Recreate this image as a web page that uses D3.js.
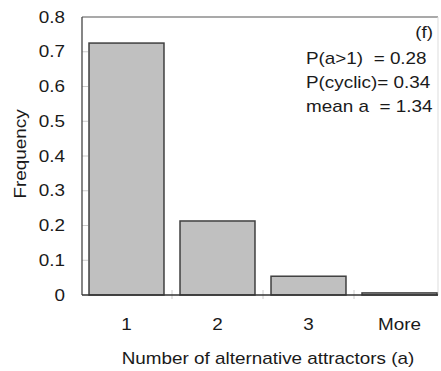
<!DOCTYPE html>
<html lang="en">
<head>
  <meta charset="UTF-8">
  <title>Alternative attractors</title>
  <script src="https://d3js.org/d3.v7.min.js"></script>
  <style>
    body { margin: 0; background: #fff; }
    svg { display: block; font-family: "Liberation Sans", Arial, sans-serif; }
    svg text { font-size: 16px; fill: #1a1a1a; white-space: pre; }
  </style>
</head>
<body>
  <svg width="441" height="371"></svg>
  <script>
    // data
    const categories = ["1", "2", "3", "More"];
    const frequency = [0.725, 0.213, 0.054, 0.006];
    const yTicks = [0, 0.1, 0.2, 0.3, 0.4, 0.5, 0.6, 0.7, 0.8];
    const notes = ["P(a>1)  = 0.28", "P(cyclic)= 0.34", "mean a  = 1.34"];
    const panel = "(f)";

    const svg = d3.select("svg");

    const plot = { left: 82, right: 438, top: 17, bottom: 295 };
    const stretch = 1.18; // the original type is set wider than normal

    // place a text with its own origin so the widening keeps the anchor
    function place(x, y, rot) {
      return `translate(${x},${y}) rotate(${rot || 0}) scale(${stretch},1)`;
    }

    const x = d3.scaleBand()
      .domain(categories)
      .range([81, 445])
      .paddingInner(0.176)
      .paddingOuter(0.088);

    const y = d3.scaleLinear()
      .domain([0, 0.8])
      .range([plot.bottom, plot.top]);

    // frame: top dark, right light
    svg.append("line")
      .attr("x1", plot.left).attr("x2", plot.right)
      .attr("y1", plot.top).attr("y2", plot.top)
      .attr("stroke", "#555").attr("stroke-width", 1.2);
    svg.append("line")
      .attr("x1", plot.right).attr("x2", plot.right)
      .attr("y1", plot.top).attr("y2", plot.bottom)
      .attr("stroke", "#ddd").attr("stroke-width", 1);

    // inner y ticks (light)
    svg.append("g")
      .selectAll("line")
      .data(yTicks.slice(1, -1))
      .join("line")
      .attr("x1", plot.left).attr("x2", plot.left + 6)
      .attr("y1", d => y(d)).attr("y2", d => y(d))
      .attr("stroke", "#ccc");

    // y labels
    svg.append("g")
      .selectAll("text")
      .data(yTicks)
      .join("text")
      .attr("transform", d => place(65, y(d)))
      .attr("dy", "0.35em")
      .attr("text-anchor", "end")
      .text(d => d === 0 ? "0" : d3.format(".1f")(d));

    // category boundary ticks
    svg.append("g")
      .selectAll("line")
      .data(categories.slice(1))
      .join("line")
      .attr("x1", d => x(d) - x.step() * x.paddingInner() / 2)
      .attr("x2", d => x(d) - x.step() * x.paddingInner() / 2)
      .attr("y1", plot.bottom - 5).attr("y2", plot.bottom + 4)
      .attr("stroke", "#ccc");

    // bars
    svg.append("g")
      .selectAll("rect")
      .data(frequency)
      .join("rect")
      .attr("x", (d, i) => x(categories[i]))
      .attr("y", d => y(d))
      .attr("width", x.bandwidth())
      .attr("height", d => y(0) - y(d))
      .attr("fill", "#c0c0c0")
      .attr("stroke", "#404040")
      .attr("stroke-width", 1.5);

    // left axis and baseline
    svg.append("line")
      .attr("x1", plot.left).attr("x2", plot.left)
      .attr("y1", plot.top).attr("y2", plot.bottom)
      .attr("stroke", "#444").attr("stroke-width", 1.3);
    svg.append("line")
      .attr("x1", plot.left).attr("x2", plot.right)
      .attr("y1", plot.bottom).attr("y2", plot.bottom)
      .attr("stroke", "#333").attr("stroke-width", 1.6);

    // category labels
    svg.append("g")
      .selectAll("text")
      .data(categories)
      .join("text")
      .attr("transform", d => place(x(d) + x.bandwidth() / 2, 330))
      .attr("text-anchor", "middle")
      .text(d => d);

    // axis titles
    svg.append("text")
      .attr("transform", place(268, 364))
      .attr("text-anchor", "middle")
      .text("Number of alternative attractors (a)");

    svg.append("text")
      .attr("transform", place(26, 154, -90))
      .attr("text-anchor", "middle")
      .text("Frequency");

    // annotations
    svg.append("text")
      .attr("transform", place(433, 38))
      .attr("text-anchor", "end")
      .text(panel);

    svg.append("g")
      .selectAll("text")
      .data(notes)
      .join("text")
      .attr("transform", (d, i) => place(306, 64 + i * 24))
      .text(d => d);
  </script>
</body>
</html>
